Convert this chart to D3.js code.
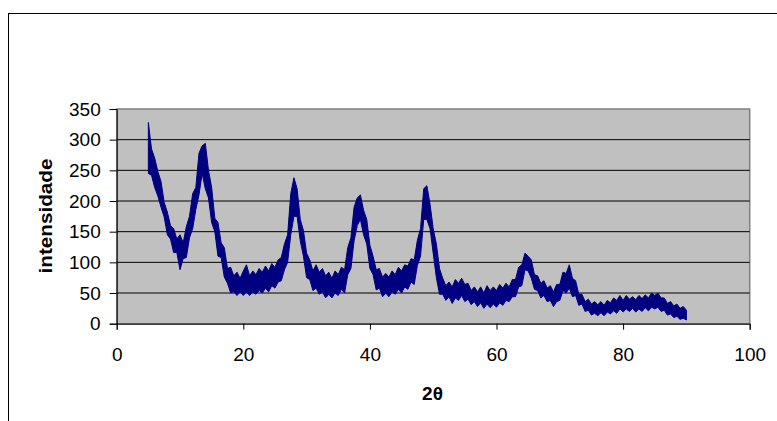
<!DOCTYPE html>
<html>
<head>
<meta charset="utf-8">
<script src="https://cdn.jsdelivr.net/npm/d3@7"></script>
<style>
  body { margin: 0; background: #fff; }
  svg { display: block; font-family: "Liberation Sans", Arial, sans-serif; }
</style>
</head>
<body>
<div id="chart"></div>
<script>
  var w = 777,
      h = 421;

  // 2theta sampled every 0.5 degree from 5 to 90
  var angles = d3.range(5, 90.001, 0.5);

  // upper edge of the noisy trace
  var hiVals = [
    328, 285, 270, 248, 232, 198, 182, 160, 155, 138,   // 5 - 9.5
    145, 132, 158, 175, 212, 222, 278, 290, 294, 250,   // 10 - 14.5
    222, 172, 165, 132, 124, 90, 92, 78, 84, 74,        // 15 - 19.5
    86, 96, 78, 86, 80, 90, 84, 94, 86, 98,             // 20 - 24.5
    92, 104, 108, 130, 145, 212, 238, 220, 170, 152,    // 25 - 29.5
    115, 104, 86, 96, 84, 90, 78, 84, 74, 86,           // 30 - 34.5
    80, 92, 88, 124, 140, 190, 205, 210, 185, 170,      // 35 - 39.5
    128, 110, 88, 90, 76, 82, 76, 86, 80, 92,           // 40 - 44.5
    86, 96, 94, 106, 104, 136, 155, 220, 225, 195,      // 45 - 49.5
    155, 130, 90, 74, 62, 68, 60, 72, 66, 74,           // 50 - 54.5
    64, 66, 54, 60, 52, 60, 50, 62, 54, 60,             // 55 - 59.5
    54, 64, 58, 66, 60, 72, 72, 92, 96, 115,            // 60 - 64.5
    110, 104, 80, 78, 66, 70, 58, 62, 52, 64,           // 65 - 69.5
    64, 84, 82, 96, 74, 70, 48, 48, 36, 40,             // 70 - 74.5
    32, 36, 31, 36, 30, 38, 34, 42, 38, 46,             // 75 - 79.5
    38, 46, 40, 44, 39, 46, 41, 47, 42, 50,             // 80 - 84.5
    46, 50, 42, 42, 33, 36, 29, 32, 25, 28,             // 85 - 89.5
    22                                                  // 90
  ];

  // lower edge of the noisy trace
  var loVals = [
    245, 242, 222, 208, 190, 174, 145, 138, 116, 116,
    88, 106, 108, 140, 155, 186, 210, 245, 220, 205,
    165, 150, 110, 108, 76, 66, 50, 52, 46, 52,
    46, 52, 46, 52, 48, 54, 50, 58, 52, 62,
    58, 68, 70, 88, 100, 145, 175, 175, 135, 110,
    75, 72, 54, 58, 48, 52, 42, 48, 42, 50,
    46, 56, 50, 80, 90, 135, 160, 170, 145, 130,
    90, 80, 55, 58, 44, 50, 44, 52, 48, 56,
    50, 60, 56, 68, 64, 95, 110, 170, 170, 155,
    115, 75, 48, 48, 38, 44, 33, 42, 38, 46,
    36, 40, 31, 36, 28, 34, 25, 32, 26, 32,
    27, 34, 30, 38, 36, 44, 44, 60, 62, 88,
    86, 74, 56, 54, 42, 46, 36, 38, 28, 36,
    38, 54, 50, 58, 44, 46, 30, 32, 20, 22,
    14, 17, 13, 18, 13, 19, 16, 21, 17, 24,
    19, 24, 20, 25, 19, 24, 20, 26, 21, 27,
    24, 27, 20, 22, 14, 16, 10, 12, 7, 9,
    6
  ];

  var xTicks = [0, 20, 40, 60, 80, 100];
  var yTicks = [0, 50, 100, 150, 200, 250, 300, 350];

  var rows = angles.map(function(a, i) {
    return {a: a, hi: hiVals[i], lo: loVals[i]};
  });

  var plotL = 116.7, plotR = 749.7, plotT = 109, plotB = 323.7;

  var svg = d3.select("#chart").append("svg")
      .attr("width", w)
      .attr("height", h);

  // outer chart frame (runs off the right and bottom edge)
  svg.append("rect")
      .attr("x", 8.5).attr("y", 13.5)
      .attr("width", 900).attr("height", 500)
      .attr("fill", "#fff")
      .attr("stroke", "#000");

  var x = d3.scaleLinear().domain([0, 100]).range([plotL, plotR]);
  var y = d3.scaleLinear().domain([0, 350]).range([plotB, plotT]);

  // plot area
  svg.append("rect")
      .attr("x", plotL).attr("y", plotT)
      .attr("width", plotR - plotL).attr("height", plotB - plotT)
      .attr("fill", "#c0c0c0")
      .attr("stroke", "#808080")
      .attr("stroke-width", 1.5);

  // gridlines
  svg.selectAll("line.grid").data(yTicks.slice(1, -1))
    .enter().append("line")
      .attr("class", "grid")
      .attr("x1", plotL).attr("x2", plotR)
      .attr("y1", function(d) { return y(d); })
      .attr("y2", function(d) { return y(d); })
      .attr("stroke", "#000")
      .attr("stroke-width", 1);

  // trace: band between the low and high edges
  var band = d3.area()
      .x(function(d) { return x(d.a); })
      .y0(function(d) { return y(d.lo); })
      .y1(function(d) { return y(d.hi); });

  svg.append("path")
      .datum(rows)
      .attr("d", band)
      .attr("fill", "#000080")
      .attr("stroke", "#000080")
      .attr("stroke-width", 1)
      .attr("stroke-linejoin", "miter");

  // axes
  var xAxis = d3.axisBottom(x).tickValues(xTicks).tickSize(6).tickPadding(18);
  var yAxis = d3.axisLeft(y).tickValues(yTicks).tickSize(7).tickPadding(9);

  var gx = svg.append("g")
      .attr("transform", "translate(0," + plotB + ")")
      .call(xAxis);
  var gy = svg.append("g")
      .attr("transform", "translate(" + plotL + ",0)")
      .call(yAxis);

  [gx, gy].forEach(function(g) {
    g.select(".domain").attr("stroke", "#000").attr("stroke-width", 1);
    g.selectAll(".tick line").attr("stroke", "#000");
    g.selectAll(".tick text")
      .attr("fill", "#000")
      .style("font-size", "19px")
      .style("font-family", "'Liberation Sans', Arial, sans-serif");
  });

  // axis titles
  svg.append("text")
      .attr("x", 432.5).attr("y", 400)
      .attr("text-anchor", "middle")
      .style("font-size", "19px")
      .style("font-weight", "bold")
      .text("2θ");

  svg.append("text")
      .attr("transform", "translate(52,216) rotate(-90) scale(1.15,1)")
      .attr("text-anchor", "middle")
      .style("font-size", "18px")
      .style("font-weight", "bold")
      .text("intensidade");
</script>
</body>
</html>
